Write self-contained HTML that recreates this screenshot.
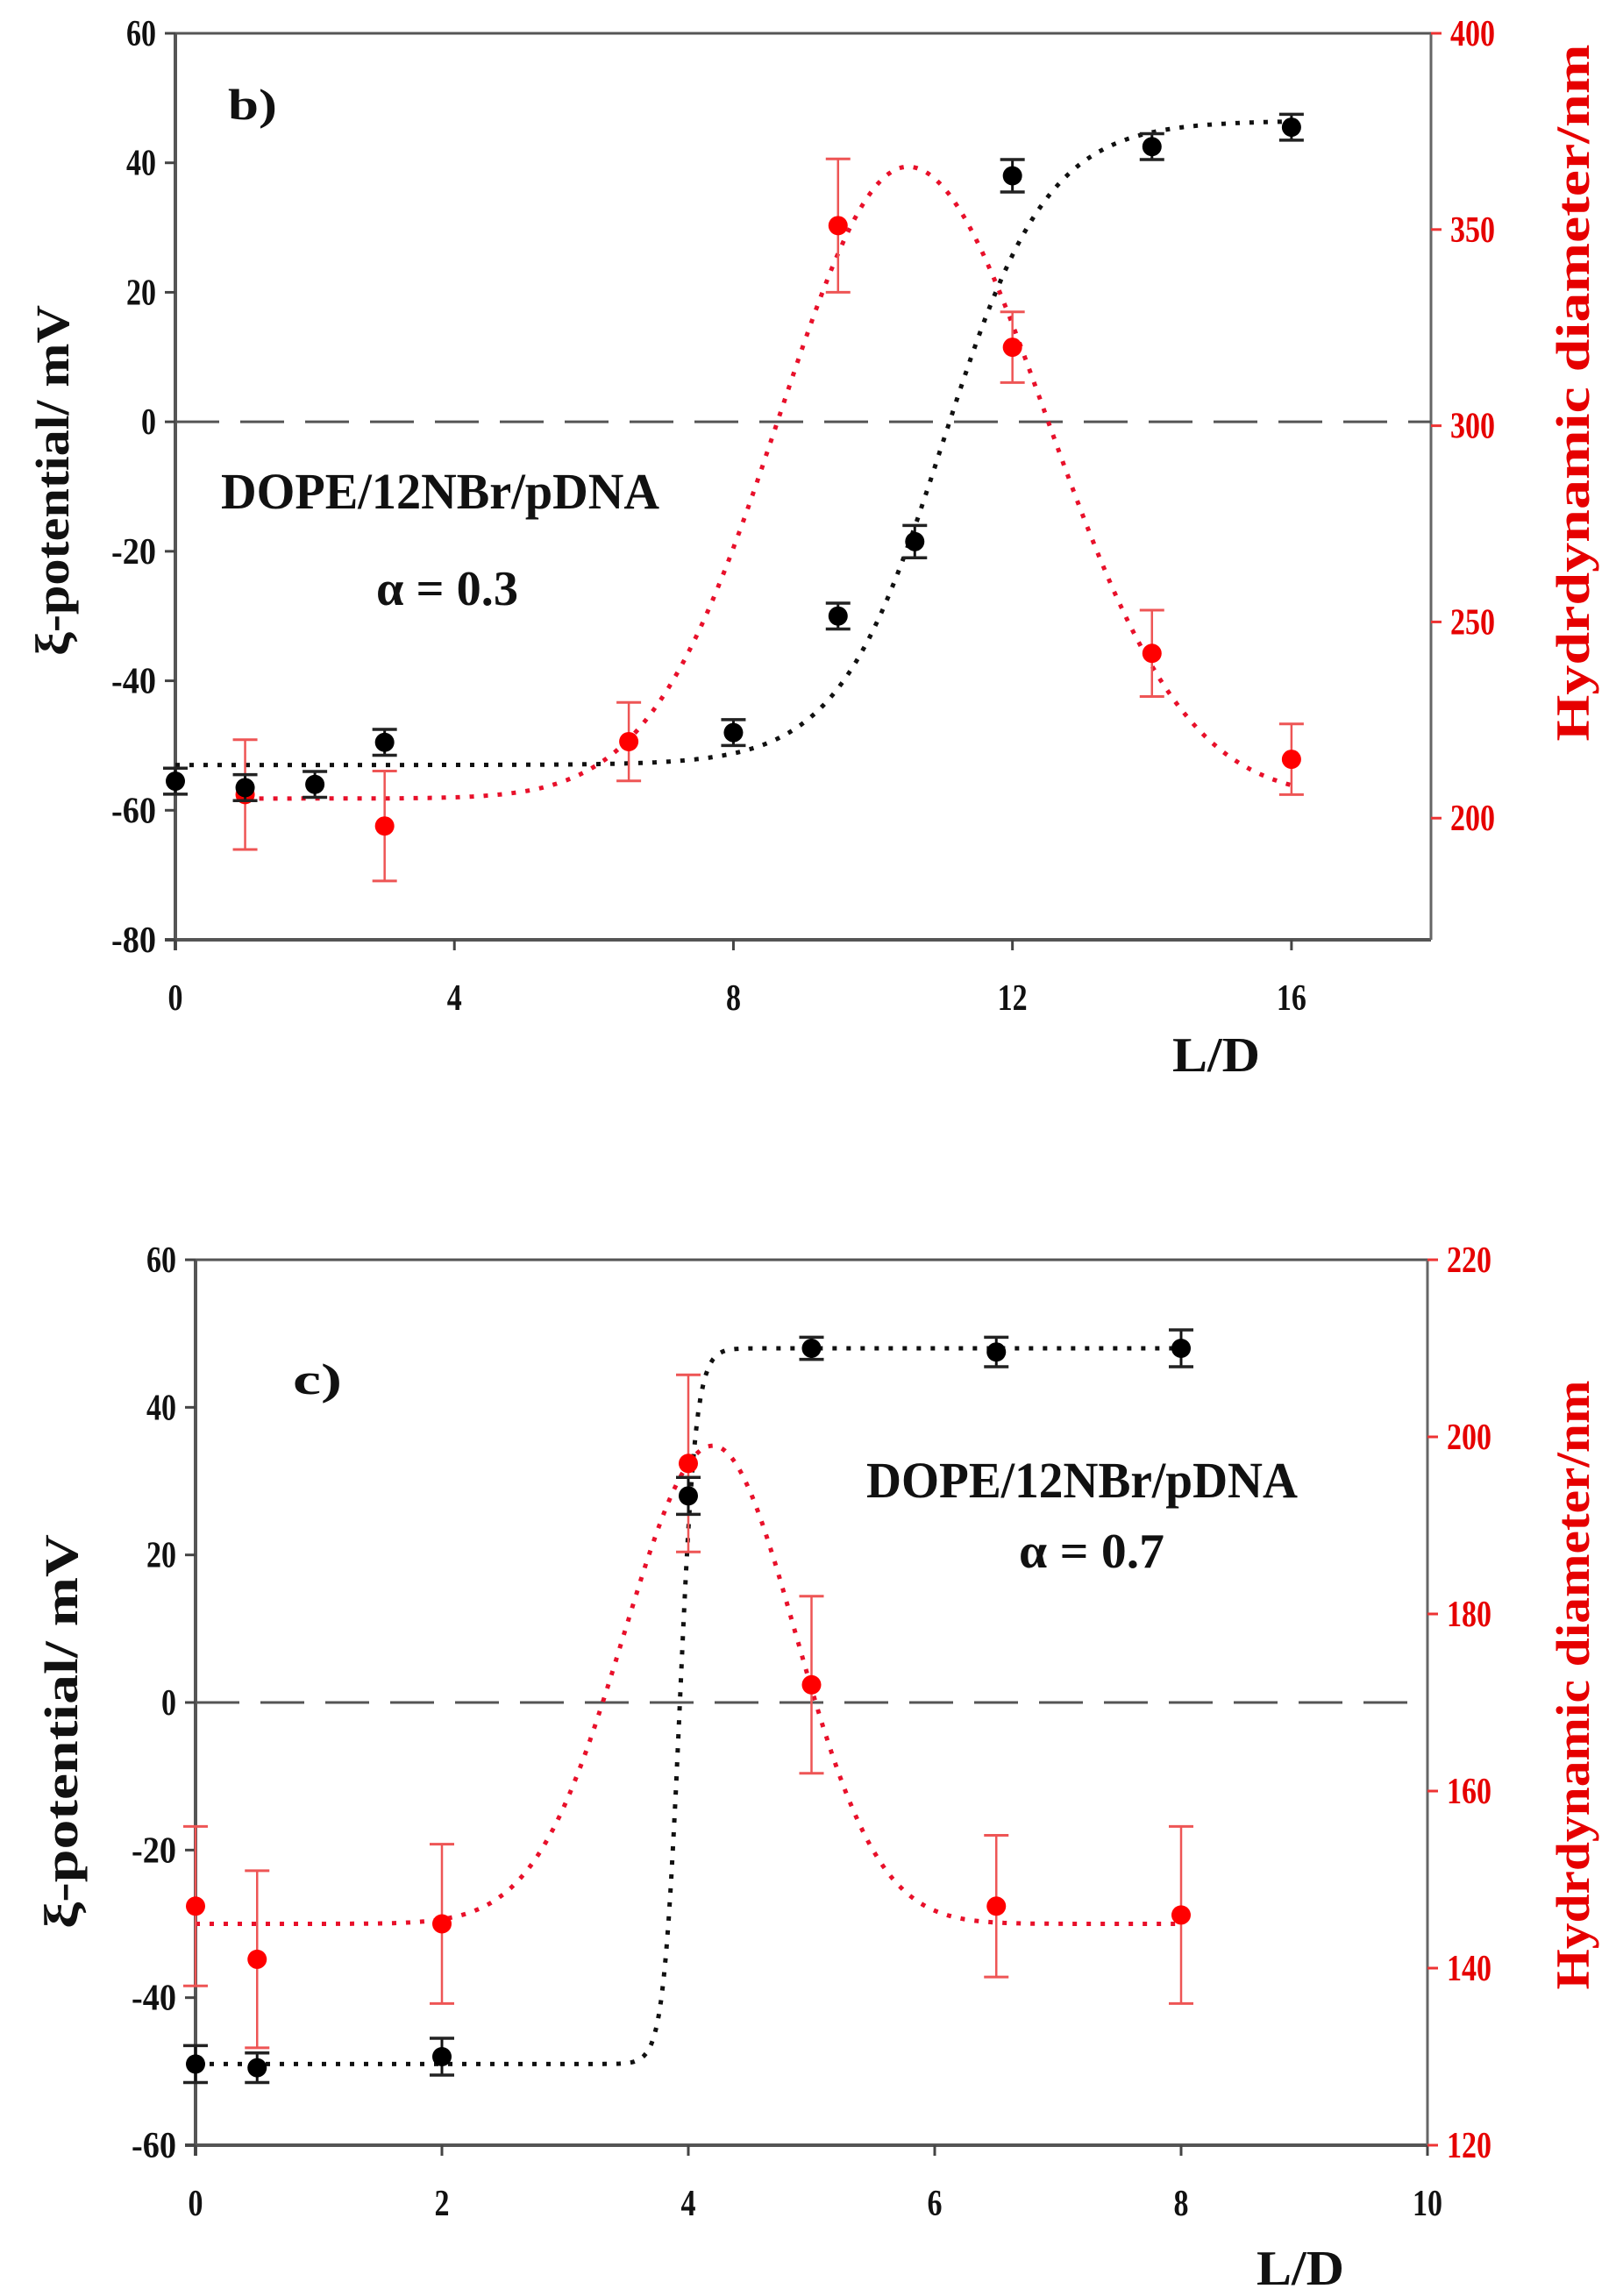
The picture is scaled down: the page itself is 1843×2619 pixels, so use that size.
<!DOCTYPE html>
<html><head><meta charset="utf-8"><style>
html,body{margin:0;padding:0;background:#fff;width:1843px;height:2619px;overflow:hidden}
svg{display:block}
text{font-family:"Liberation Serif",serif;font-weight:bold}
</style></head><body>
<svg id="s" width="1843" height="2619" xmlns="http://www.w3.org/2000/svg"></svg>
<script>
const S=document.getElementById('s');let h='';
function T(x,y,t,o){o=o||{};h+=`<text x="${x}" y="${y}" font-size="${o.fs||40}" fill="${o.c||'#111'}" text-anchor="${o.a||'middle'}" ${o.r?`transform="rotate(-90 ${x} ${y})"`:''} ${o.sx?`textLength="${o.sx}" lengthAdjust="spacingAndGlyphs"`:''}>${t}</text>`;}
function L(x1,y1,x2,y2,c,w,d){h+=`<line x1="${x1}" y1="${y1}" x2="${x2}" y2="${y2}" stroke="${c}" stroke-width="${w}" ${d?`stroke-dasharray="${d}"`:''}/>`;}
function num(x,y,v,a,c){const s=String(v);T(x,y,s,{a:a,c:c,fs:42,sx:s.length*17});}
function panel(P){
 const X=v=>P.L+(v-P.x0)*(P.R-P.L)/(P.x1-P.x0);
 const Y=v=>P.B-(v-P.y0)*(P.B-P.T)/(P.y1-P.y0);
 const YR=v=>P.B-(v-P.r0)*(P.B-P.T)/(P.r1-P.r0);
 L(P.L,P.T,P.R,P.T,'#555',3);L(P.L,P.T,P.L,P.B+12,'#555',4);L(P.L-12,P.B,P.R,P.B,'#555',4);L(P.R,P.T,P.R,P.B,'#666',3);
 for(let v=P.y0;v<=P.y1;v+=P.ys){L(P.L-12,Y(v),P.L,Y(v),'#444',3);num(P.L-22,Y(v)+14,v,'end');}
 for(let v=P.x0;v<=P.x1;v+=P.xs){L(X(v),P.B,X(v),P.B+12,'#444',3);if(P.xl.includes(v))num(X(v),P.B+80,v,'middle');}
 for(let v=P.rt0;v<=P.r1;v+=P.rs){L(P.R,YR(v),P.R+12,YR(v),'#e33',3);num(P.R+22,YR(v)+14,v,'start','#e60000');}
 L(P.L,Y(0),P.R,Y(0),'#555',3,'50 24');
 function curve(f,a,b,c,yf){let d='';for(let i=0;i<=400;i++){const x=a+(b-a)*i/400;d+=(i?'L':'M')+X(x).toFixed(1)+' '+yf(f(x)).toFixed(1);}h+=`<path d="${d}" fill="none" stroke="${c}" stroke-width="5" stroke-dasharray="5 11"/>`;}
 curve(P.rf,P.ra,P.rb,'#e8102a',YR);curve(P.bf,P.ba,P.bb,'#111',Y);
 P.rd.forEach(([x,v,e])=>{L(X(x),YR(v-e),X(x),YR(v+e),'#e55',2.5);L(X(x)-14,YR(v-e),X(x)+14,YR(v-e),'#e55',3);L(X(x)-14,YR(v+e),X(x)+14,YR(v+e),'#e55',3);h+=`<circle cx="${X(x)}" cy="${YR(v)}" r="11" fill="#f00"/>`;});
 P.bd.forEach(([x,v,e])=>{L(X(x),Y(v-e),X(x),Y(v+e),'#111',3);L(X(x)-14,Y(v-e),X(x)+14,Y(v-e),'#222',3.5);L(X(x)-14,Y(v+e),X(x)+14,Y(v+e),'#222',3.5);h+=`<circle cx="${X(x)}" cy="${Y(v)}" r="11" fill="#000"/>`;});
}
panel({L:200,R:1632,T:38,B:1072,x0:0,x1:18,xs:4,xl:[0,4,8,12,16],y0:-80,y1:60,ys:20,r0:169,r1:400,rt0:200,rs:50,
 bf:x=>-53+99.5/(1+Math.exp(-(x-11)/0.75)),ba:0,bb:16,
 rf:x=>205+161*Math.exp(-Math.pow((x-10.5)/(x<10.5?2.6:2.8),2)),ra:1,rb:16,
 bd:[[0,-55.5,2],[1,-56.5,2],[2,-56,2],[3,-49.5,2],[8,-48,2],[9.5,-30,2],[10.6,-18.5,2.5],[12,38,2.5],[14,42.5,2],[16,45.5,2]],
 rd:[[1,206,14],[3,198,14],[6.5,219.5,10],[9.5,351,17],[12,320,9],[14,242,11],[16,215,9]]});
T(288,136,'b)',{fs:50,sx:56});
T(502,580,'DOPE/12NBr/pDNA',{fs:58,sx:500});
T(510,690,'α = 0.3',{fs:56,sx:162});
T(78,548,'ξ-potential/ mV',{fs:54,r:1,sx:400});
T(1812,448,'Hydrdynamic diameter/nm',{fs:54,r:1,c:'#e60000',sx:795});
T(1387,1222,'L/D',{fs:56,sx:100});
panel({L:223,R:1628,T:1437,B:2447,x0:0,x1:10,xs:2,xl:[0,2,4,6,8,10],y0:-60,y1:60,ys:20,r0:120,r1:220,rt0:120,rs:20,
 bf:x=>-49+97/(1+Math.exp(-(x-3.93)/0.065)),ba:0,bb:8,
 rf:x=>145+54*Math.exp(-Math.pow((x-4.2)/(x<4.2?1.02:0.95),2)),ra:0,rb:8,
 bd:[[0,-49,2.5],[0.5,-49.5,2],[2,-48,2.5],[4,28,2.5],[5,48,1.5],[6.5,47.5,2],[8,48,2.5]],
 rd:[[0,147,9],[0.5,141,10],[2,145,9],[4,197,10],[5,172,10],[6.5,147,8],[8,146,10]]});
T(362,1590,'c)',{fs:50,sx:56});
T(1234,1708,'DOPE/12NBr/pDNA',{fs:58,sx:492});
T(1245,1788,'α = 0.7',{fs:56,sx:166});
T(88,1975,'ξ-potential/ mV',{fs:54,r:1,sx:450});
T(1812,1922,'Hydrdynamic diameter/nm',{fs:54,r:1,c:'#e60000',sx:695});
T(1483,2606,'L/D',{fs:56,sx:100});
S.innerHTML=h;
</script>
</body></html>
